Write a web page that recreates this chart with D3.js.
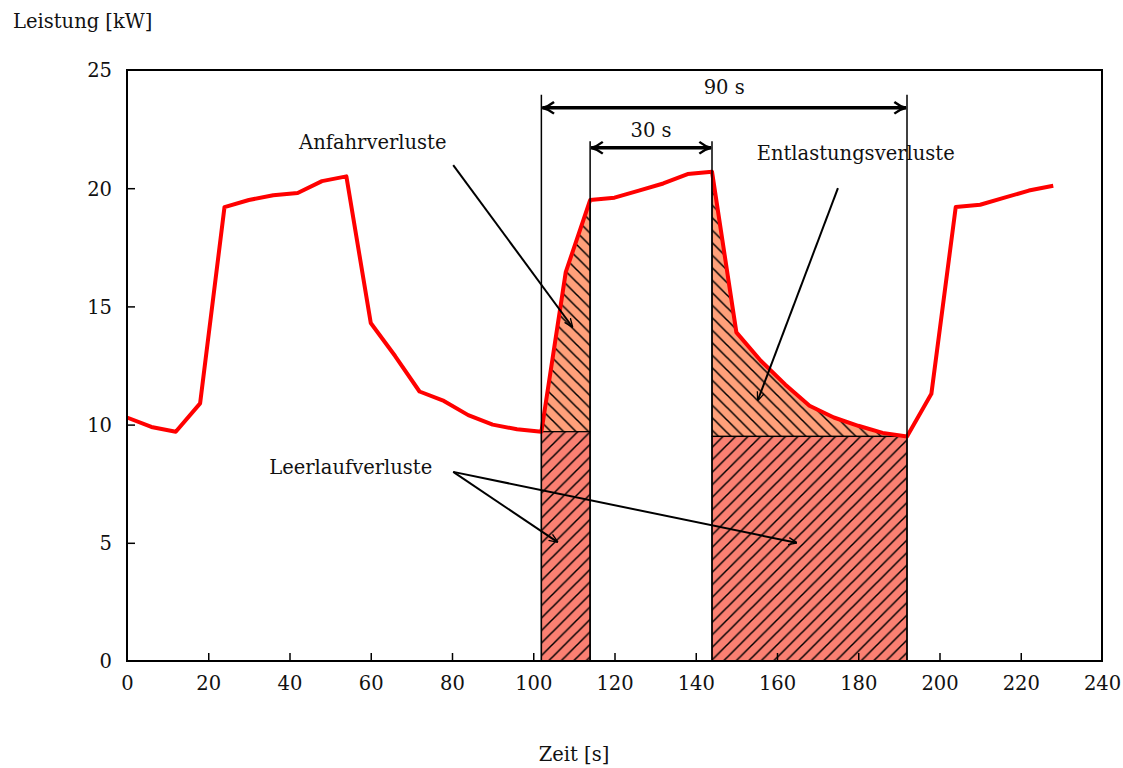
<!DOCTYPE html>
<html>
<head>
<meta charset="utf-8">
<script src="https://cdn.jsdelivr.net/npm/d3@7"></script>
<style>
  body { margin: 0; background: #fff; }
  text { font-family: "DejaVu Serif", "Liberation Serif", serif; font-size: 19.5px; fill: #111; }
</style>
</head>
<body>
<script>
// data
var zeit = [0, 6, 12, 18, 24, 30, 36, 42, 48, 54, 60, 66, 72, 78, 84, 90, 96, 102, 108, 114,
            120, 126, 132, 138, 144, 150, 156, 162, 168, 174, 180, 186, 192, 198, 204, 210, 216, 222, 228];
var leistung = [10.3, 9.9, 9.7, 10.9, 19.2, 19.5, 19.7, 19.8, 20.3, 20.5, 14.3, 12.9, 11.4, 11.0, 10.4, 10.0, 9.8, 9.7, 16.45, 19.5,
                19.6, 19.9, 20.2, 20.6, 20.7, 13.9, 12.7, 11.7, 10.8, 10.3, 9.95, 9.65, 9.5, 11.3, 19.2, 19.3, 19.6, 19.9, 20.1];
var xTicks = [0, 20, 40, 60, 80, 100, 120, 140, 160, 180, 200, 220, 240];
var yTicks = [0, 5, 10, 15, 20, 25];
// loss intervals: [start, end, idle level]
var anfahr = [102, 114, 9.7];
var entlastung = [144, 192, 9.5];

var margin = {top: 70, right: 21, bottom: 107, left: 127},
    width = 1123 - margin.left - margin.right,
    height = 768 - margin.top - margin.bottom;

var svgRoot = d3.select("body").append("svg")
    .attr("width", 1123).attr("height", 768);

var defs = svgRoot.append("defs");
function hatch(id, color, dir) {
  var p = defs.append("pattern").attr("id", id)
      .attr("patternUnits", "userSpaceOnUse").attr("width", 12.5).attr("height", 12.5);
  p.append("rect").attr("width", 12.5).attr("height", 12.5).attr("fill", color);
  var d = dir > 0 ? "M-2,2 L2,-2 M0,12.5 L12.5,0 M10.5,14.5 L14.5,10.5"
                  : "M-2,10.5 L2,14.5 M0,0 L12.5,12.5 M10.5,-2 L14.5,2";
  p.append("path").attr("d", d).attr("stroke", "#000").attr("stroke-width", 1.5);
}
hatch("hUp", "#ffa07a", -1);
hatch("hLow", "#fa8072", 1);

defs.append("marker").attr("id", "arr").attr("viewBox", "0 0 10 10")
    .attr("refX", 9).attr("refY", 5).attr("markerWidth", 9).attr("markerHeight", 9)
    .attr("markerUnits", "userSpaceOnUse").attr("orient", "auto")
  .append("path").attr("d", "M0,1 L10,5 L0,9").attr("fill", "none").attr("stroke", "#000").attr("stroke-width", 1.5);
defs.append("marker").attr("id", "dim").attr("viewBox", "0 0 12 12")
    .attr("refX", 11).attr("refY", 6).attr("markerWidth", 14).attr("markerHeight", 14)
    .attr("markerUnits", "userSpaceOnUse").attr("orient", "auto-start-reverse")
  .append("path").attr("d", "M1,1 Q6,5 11,6 Q6,7 1,11").attr("fill", "none").attr("stroke", "#000").attr("stroke-width", 2);

var svg = svgRoot.append("g")
    .attr("transform", "translate(" + margin.left + "," + margin.top + ")");

var x = d3.scaleLinear().domain([0, 240]).range([0, width]);
var y = d3.scaleLinear().domain([0, 25]).range([height, 0]);

var pts = zeit.map(function(t, i) { return [t, leistung[i]]; });
function seg(a, b) { return pts.filter(function(p) { return p[0] >= a && p[0] <= b; }); }

// filled loss areas
[anfahr, entlastung].forEach(function(iv) {
  var s = seg(iv[0], iv[1]);
  var area = d3.area().x(function(p) { return x(p[0]); })
      .y0(y(iv[2])).y1(function(p) { return y(p[1]); });
  svg.append("path").datum(s).attr("d", area)
      .attr("fill", "url(#hUp)").attr("stroke", "#000").attr("stroke-width", 1.2);
  svg.append("rect")
      .attr("x", x(iv[0])).attr("y", y(iv[2]))
      .attr("width", x(iv[1]) - x(iv[0])).attr("height", y(0) - y(iv[2]))
      .attr("fill", "url(#hLow)").attr("stroke", "#000").attr("stroke-width", 1.2);
});

// main line
svg.append("path").datum(pts)
    .attr("d", d3.line().x(function(p) { return x(p[0]); }).y(function(p) { return y(p[1]); }))
    .attr("fill", "none").attr("stroke", "#ff0000").attr("stroke-width", 4).attr("stroke-linejoin", "round");

// axes
var xAxis = svg.append("g").attr("transform", "translate(0," + height + ")")
    .call(d3.axisBottom(x).tickValues(xTicks).tickSizeInner(-8).tickSizeOuter(0).tickPadding(15));
var yAxis = svg.append("g")
    .call(d3.axisLeft(y).tickValues(yTicks).tickSizeInner(-8).tickSizeOuter(0).tickPadding(15));
[xAxis, yAxis].forEach(function(a) {
  a.select(".domain").remove();
  a.selectAll("line").attr("stroke", "#000").attr("stroke-width", 1.5);
  a.selectAll("text").style("font-size", "19.5px").style("font-family", "DejaVu Serif, serif").attr("fill", "#111");
});
yAxis.selectAll("text").attr("dy", "0.35em");
xAxis.selectAll("line").filter(function(d) { return d === 0 || d === 240; }).remove();
yAxis.selectAll("line").filter(function(d) { return d === 0 || d === 25; }).remove();
svg.append("rect").attr("width", width).attr("height", height)
    .attr("fill", "none").attr("stroke", "#000").attr("stroke-width", 2);

// dimension lines
svg.selectAll(".vl").data([[102, 23.95], [192, 23.95], [114, 21.99], [144, 21.99]]).enter()
  .append("line").attr("x1", function(d) { return x(d[0]); }).attr("x2", function(d) { return x(d[0]); })
  .attr("y1", y(0)).attr("y2", function(d) { return y(d[1]); })
  .attr("stroke", "#000").attr("stroke-width", 1.5);
function dimArrow(a, b, lvl, label, off) {
  svg.append("line").attr("x1", x(a) + 1).attr("x2", x(b) - 1).attr("y1", y(lvl)).attr("y2", y(lvl))
    .attr("stroke", "#000").attr("stroke-width", 3.5)
    .attr("marker-start", "url(#dim)").attr("marker-end", "url(#dim)");
  svg.append("text").attr("x", (x(a) + x(b)) / 2).attr("y", y(lvl) - off)
    .attr("text-anchor", "middle").attr("dy", "0.35em").text(label);
}
dimArrow(102, 192, 23.4, "90 s", 21);
dimArrow(114, 144, 21.71, "30 s", 18);

// annotations
function note(tx, ty, anchor, label) {
  svg.append("text").attr("x", x(tx)).attr("y", y(ty)).attr("dy", "0.35em")
    .attr("text-anchor", anchor).text(label);
}
note(60.5, 21.95, "middle", "Anfahrverluste");
note(155, 21.5, "start", "Entlastungsverluste");
note(35, 8.2, "start", "Leerlaufverluste");
function arrow(x1, y1, x2, y2) {
  svg.append("line").attr("x1", x(x1)).attr("y1", y(y1)).attr("x2", x(x2)).attr("y2", y(y2))
    .attr("stroke", "#000").attr("stroke-width", 2).attr("marker-end", "url(#arr)");
}
arrow(80.3, 20.98, 109.6, 14.14);
arrow(175, 20.0, 155.3, 11.04);
arrow(80.3, 8.0, 105.9, 5.04);
arrow(80.3, 8.0, 164.8, 5.0);

// axis titles
svgRoot.append("text").attr("x", 13).attr("y", 21).attr("dy", "0.35em").text("Leistung [kW]");
svgRoot.append("text").attr("x", 574).attr("y", 754).attr("dy", "0.35em")
  .attr("text-anchor", "middle").text("Zeit [s]");
</script>
</body>
</html>
